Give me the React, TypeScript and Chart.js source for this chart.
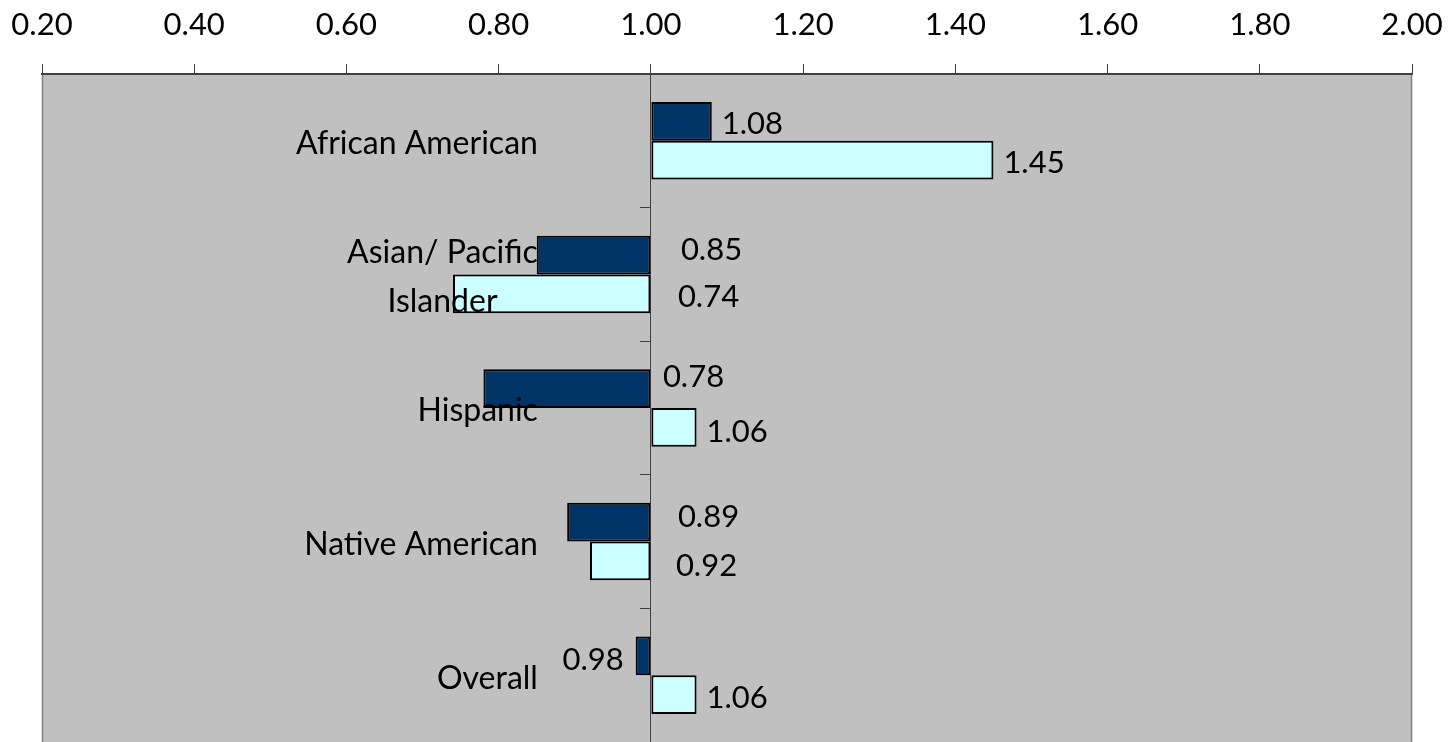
import React, { useEffect, useRef } from "react";
import { Chart, registerables } from "chart.js";

Chart.register(...registerables);

const categories: string[][] = [
  ["African American"],
  ["Asian/ Pacific", "Islander"],
  ["Hispanic"],
  ["Native American"],
  ["Overall"],
];
const seriesDark: number[] = [1.08, 0.85, 0.78, 0.89, 0.98];
const seriesLight: number[] = [1.45, 0.74, 1.06, 0.92, 1.06];
const axisMin = 0.2;
const axisMax = 2.0;
const axisStep = 0.2;
const baseValue = 1.0;

const FONT = "Lato";

export default function App() {
  const ref = useRef<HTMLCanvasElement>(null);
  useEffect(() => {
    document.body.style.margin = "0";
    const canvas = ref.current!;
    const bgPlugin = {
      id: "bg",
      beforeDraw(chart: any) {
        const { ctx, chartArea: a } = chart;
        ctx.save();
        ctx.fillStyle = "#C0C0C0";
        ctx.fillRect(a.left, a.top, a.right - a.left, a.bottom - a.top + 4);
        ctx.strokeStyle = "#808080";
        ctx.lineWidth = 1.5;
        ctx.beginPath();
        ctx.moveTo(a.left + 0.5, a.top);
        ctx.lineTo(a.left + 0.5, a.bottom + 4);
        ctx.moveTo(a.right - 0.5, a.top);
        ctx.lineTo(a.right - 0.5, a.bottom + 4);
        ctx.stroke();
        ctx.restore();
      },
    };
    const labelPlugin = {
      id: "labels",
      afterDatasetsDraw(chart: any) {
        const { ctx } = chart;
        const xScale = chart.scales.x;
        const yScale = chart.scales.y;
        const axisX = xScale.getPixelForValue(baseValue);
        ctx.save();
        ctx.fillStyle = "#000";
        ctx.font = `32px ${FONT}`;
        // category labels
        categories.forEach((lines, i) => {
          const cy = yScale.getPixelForValue(i);
          const widest = Math.max(...lines.map((l) => ctx.measureText(l).width));
          const right = axisX - 113;
          const cx = right - widest / 2;
          ctx.textAlign = "center";
          ctx.textBaseline = "middle";
          const lh = 49;
          const y0 = cy - ((lines.length - 1) * lh) / 2 + 3;
          lines.forEach((l, j) => ctx.fillText(l, cx, y0 + j * lh));
        });
        // value labels
        ctx.font = `31px ${FONT}`;
        const below: number[][] = [
          [0, 30, 12, 27, 0],
          [0, 27, 0, 25, 0],
        ];
        const dys: number[][] = [
          [3, -5, -12, -5, 4],
          [3, 3, 5, 5, 3],
        ];
        chart.data.datasets.forEach((ds: any, di: number) => {
          const meta = chart.getDatasetMeta(di);
          meta.data.forEach((bar: any, i: number) => {
            const v = ds.data[i] as number;
            const txt = v.toFixed(2);
            const y = bar.y + dys[di][i];
            ctx.textBaseline = "middle";
            if (v >= baseValue) {
              ctx.textAlign = "left";
              ctx.fillText(txt, bar.x + 10, y);
            } else if (v > 0.95) {
              ctx.textAlign = "right";
              ctx.fillText(txt, bar.x - 12, y);
            } else {
              ctx.textAlign = "left";
              ctx.fillText(txt, axisX + below[di][i], y);
            }
          });
        });
        ctx.restore();
      },
    };
    const chart = new Chart(canvas, {
      type: "bar",
      data: {
        labels: categories.map((c) => c.join(" ")),
        datasets: [
          {
            data: seriesDark,
            base: baseValue,
            backgroundColor: "#003366",
            borderColor: "#000000",
            borderWidth: 2,
            borderSkipped: false,
          } as any,
          {
            data: seriesLight,
            base: baseValue,
            backgroundColor: "#CCFFFF",
            borderColor: "#000000",
            borderWidth: 2,
            borderSkipped: false,
          } as any,
        ],
      },
      options: {
        indexAxis: "y",
        animation: false,
        responsive: false,
        devicePixelRatio: 1,
        categoryPercentage: 0.58,
        barPercentage: 1.0,
        layout: { padding: { left: 42, right: 39, top: 0, bottom: 0 } },
        plugins: { legend: { display: false }, tooltip: { enabled: false } },
        scales: {
          x: {
            position: "top",
            min: axisMin,
            max: axisMax,
            afterFit: (s: any) => {
              s.height = 74;
              s.paddingLeft = 0;
              s.paddingRight = 0;
            },
            ticks: {
              stepSize: axisStep,
              padding: 20,
              color: "#000",
              font: { family: FONT, size: 31 },
              callback: (v: any) => Number(v).toFixed(2),
            },
            grid: {
              drawOnChartArea: false,
              tickLength: 10,
              color: "#404040",
              lineWidth: 1,
            },
            border: { display: true, color: "#404040", width: 2 },
          },
          y: {
            position: { x: baseValue } as any,
            offset: true,
            afterFit: (s: any) => {
              s.paddingLeft = 0;
              s.paddingRight = 0;
              s.paddingTop = 0;
              s.paddingBottom = 0;
            },
            ticks: { display: false },
            grid: {
              offset: true,
              drawOnChartArea: false,
              tickLength: 10,
              color: "#404040",
              lineWidth: 1,
            },
            border: { display: true, color: "#404040", width: 1 },
          },
        },
      } as any,
      plugins: [bgPlugin, labelPlugin],
    });
    return () => chart.destroy();
  }, []);
  return (
    <div style={{ width: 1451, height: 742 }}>
      <canvas ref={ref} width={1451} height={742} style={{ display: "block" }} />
    </div>
  );
}
